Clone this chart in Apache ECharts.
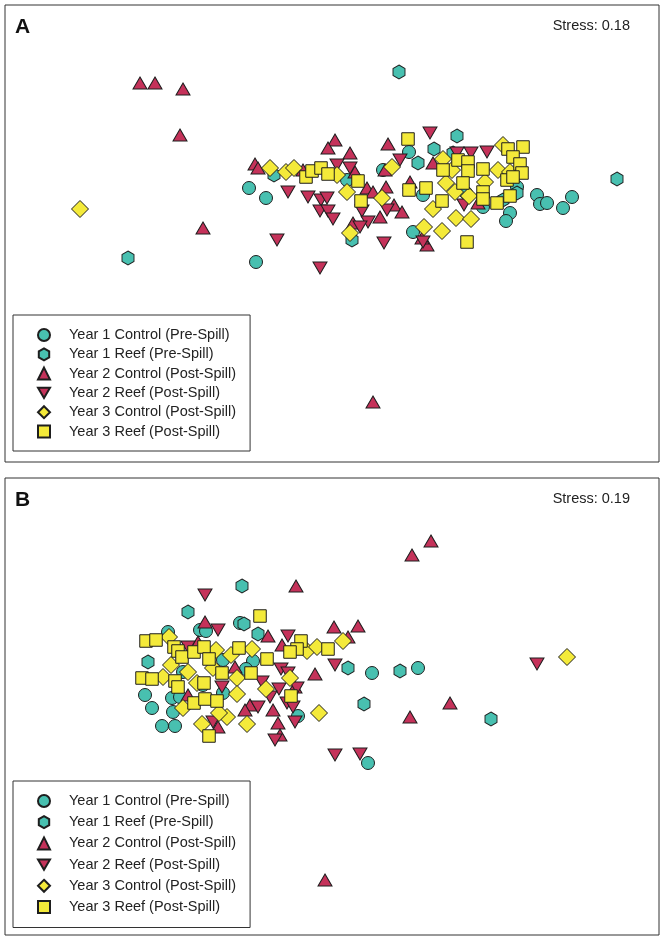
<!DOCTYPE html>
<html>
<head>
<meta charset="utf-8">
<script src="https://cdn.jsdelivr.net/npm/echarts@6/dist/echarts.min.js"></script>
<style>
  html, body { margin: 0; padding: 0; background: #fff; }
  #main { width: 664px; height: 941px; }
</style>
</head>
<body>
<div id="main"></div>
<script>
// series names, same for both panels
var seriesNames = ['Year 1 Control (Pre-Spill)', 'Year 1 Reef (Pre-Spill)', 'Year 2 Control (Post-Spill)',
                   'Year 2 Reef (Post-Spill)', 'Year 3 Control (Post-Spill)', 'Year 3 Reef (Post-Spill)'];
var panelLabels = ['A', 'B'];
var stressLabels = ['Stress: 0.18', 'Stress: 0.19'];

// panel A ordination scores (x to the right, y downwards)
var a_y1Control = [[249,188],[266,198],[256,262],[347,180],[383,170],[409,152],[413,232],[423,195],[466,193],
    [483,207],[510,213],[506,221],[537,195],[540,204],[547,203],[563,208],[572,197],[517,187]];
var a_y1Reef = [[399,72],[617,179],[128,258],[274,175],[352,240],[418,163],[434,149],[453,153],[457,136],
    [517,193],[503,200]];
var a_y2Control = [[140,83],[155,83],[183,89],[180,135],[203,228],[255,164],[258,168],[335,140],[328,148],
    [350,153],[388,144],[303,170],[355,172],[367,188],[373,192],[386,187],[394,205],[402,212],[380,217],
    [353,223],[410,182],[433,163],[427,245],[422,238],[478,203],[373,402],[385,170]];
var a_y2Reef = [[288,192],[308,197],[321,200],[327,198],[320,211],[328,211],[333,219],[337,165],[350,168],
    [277,240],[320,268],[362,211],[368,222],[360,227],[384,243],[387,210],[400,160],[430,133],[487,152],
    [471,153],[457,153],[464,205],[423,242]];
var a_y3Control = [[80,209],[270,168],[286,172],[294,168],[337,175],[347,192],[382,198],[350,233],[392,167],
    [503,145],[443,159],[452,170],[498,170],[446,183],[485,182],[455,192],[469,196],[433,209],[456,218],
    [471,219],[424,227],[442,231],[510,172]];
var a_y3Reef = [[306,177],[312,171],[321,168],[328,174],[358,181],[361,201],[408,139],[523,147],[508,149],
    [513,157],[458,160],[468,162],[520,164],[443,170],[468,171],[483,169],[522,173],[507,180],[463,183],
    [409,190],[426,188],[483,192],[483,199],[442,201],[497,203],[510,196],[467,242],[513,177]];

// panel B ordination scores
var b_y1Control = [[168,632],[200,630],[206,631],[240,623],[223,660],[145,695],[172,698],[180,697],[152,708],
    [173,712],[162,726],[175,726],[223,693],[203,685],[183,672],[253,661],[246,669],[298,716],[372,673],
    [418,668],[368,763]];
var b_y1Reef = [[242,586],[244,624],[258,634],[348,668],[364,704],[400,671],[491,719],[188,612],[148,662]];
var b_y2Control = [[431,541],[412,555],[358,626],[348,637],[450,703],[410,717],[296,586],[334,627],[268,636],
    [282,645],[315,674],[235,667],[295,687],[250,705],[245,710],[273,710],[278,723],[280,735],[205,622],
    [198,642],[188,695],[218,727],[325,880]];
var b_y2Reef = [[205,595],[218,630],[188,647],[222,687],[213,722],[288,636],[335,665],[281,669],[262,682],
    [288,673],[279,689],[270,697],[258,707],[287,703],[293,707],[295,722],[275,740],[335,755],[360,754],
    [537,664],[297,688]];
var b_y3Control = [[343,641],[567,657],[169,637],[216,650],[231,655],[171,665],[188,672],[163,677],[197,683],
    [213,668],[237,678],[237,694],[183,708],[227,717],[219,713],[202,724],[252,649],[307,651],[317,647],
    [290,678],[266,689],[319,713],[247,724]];
var b_y3Reef = [[260,616],[239,648],[301,641],[297,649],[290,652],[328,649],[267,659],[251,673],[291,696],
    [146,641],[156,640],[174,647],[178,651],[182,657],[194,652],[204,647],[209,659],[142,678],[152,679],
    [175,681],[178,687],[204,683],[222,673],[194,703],[205,699],[217,701],[209,736]];

// axis extents of each panel
var xRange = [5, 659];
var yRanges = [[5, 462], [478, 935]];

var panelData = [
    [a_y1Control, a_y1Reef, a_y2Control, a_y2Reef, a_y3Control, a_y3Reef],
    [b_y1Control, b_y1Reef, b_y2Control, b_y2Reef, b_y3Control, b_y3Reef]
];

var teal = '#48c0b0', red = '#c5325a', yellow = '#f4ea3a';
var hexagon = 'path://M0,-1L0.866,-0.5L0.866,0.5L0,1L-0.866,0.5L-0.866,-0.5Z';
var triDown = 'path://M-1,-0.866L1,-0.866L0,0.866Z';
var styles = [
    {color: teal, symbol: 'circle', size: 13},
    {color: teal, symbol: hexagon, size: [12, 14]},
    {color: red, symbol: 'triangle', size: [14, 12]},
    {color: red, symbol: triDown, size: [14, 12]},
    {color: yellow, symbol: 'diamond', size: 17},
    {color: yellow, symbol: 'rect', size: 12.5}
];

var font = '"Liberation Sans", Arial, sans-serif';
var chart = echarts.init(document.getElementById('main'), null, {renderer: 'canvas'});

var grids = [], xAxes = [], yAxes = [], series = [], legends = [], graphics = [];
// legend boxes differ a little between panels
var legendTops = [315, 781];
var legendGaps = [4.3, 6.2];
var legendPads = [[12.5, 14, 12, 24], [12.5, 14, 13, 24]];

for (var p = 0; p < 2; p++) {
    grids.push({left: xRange[0], top: yRanges[p][0], width: xRange[1] - xRange[0],
        height: yRanges[p][1] - yRanges[p][0], show: true, borderColor: '#333', borderWidth: 1,
        backgroundColor: '#fff'});
    xAxes.push({gridIndex: p, type: 'value', min: xRange[0], max: xRange[1], show: false});
    yAxes.push({gridIndex: p, type: 'value', min: yRanges[p][0], max: yRanges[p][1], inverse: true, show: false});

    for (var s = 0; s < seriesNames.length; s++) {
        series.push({
            name: seriesNames[s],
            type: 'scatter',
            xAxisIndex: p,
            yAxisIndex: p,
            data: panelData[p][s],
            symbol: styles[s].symbol,
            symbolSize: styles[s].size,
            itemStyle: {color: styles[s].color, borderColor: '#1e1e1e', borderWidth: 1, opacity: 1},
            emphasis: {disabled: true},
            animation: false
        });
    }

    legends.push({
        orient: 'vertical',
        left: 13,
        top: legendTops[p],
        data: seriesNames,
        itemWidth: 12,
        itemHeight: 12,
        itemGap: legendGaps[p],
        padding: legendPads[p],
        borderColor: '#333',
        borderWidth: 1,
        backgroundColor: '#fff',
        selectedMode: false,
        textStyle: {fontFamily: font, fontSize: 14.5, color: '#222', padding: [0, 0, 0, 14]}
    });

    graphics.push({
        type: 'text', left: 15, top: yRanges[p][0] + 12,
        style: {text: panelLabels[p], font: 'bold 21px ' + font, fill: '#111'}
    });
    graphics.push({
        type: 'text', right: 34, top: yRanges[p][0] + 13,
        style: {text: stressLabels[p], font: '14.5px ' + font, fill: '#222'}
    });
}

chart.setOption({
    animation: false,
    backgroundColor: '#fff',
    grid: grids,
    xAxis: xAxes,
    yAxis: yAxes,
    legend: legends,
    series: series,
    graphic: graphics
});
</script>
</body>
</html>
